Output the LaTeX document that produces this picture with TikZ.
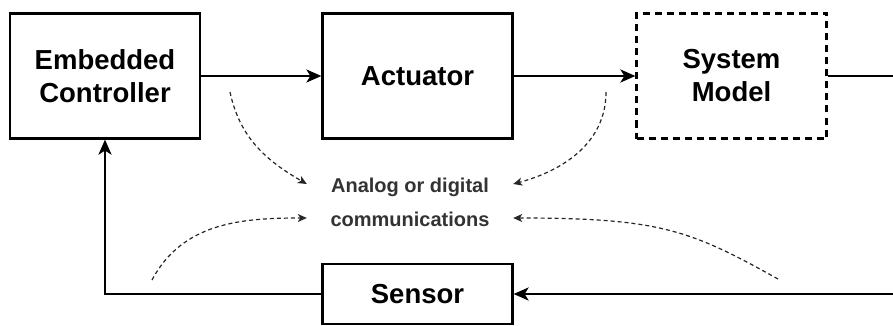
\documentclass[tikz,border=0pt]{standalone}
\usepackage{fontspec}
\setmainfont{Liberation Sans}
\usetikzlibrary{arrows.meta, positioning}

\begin{document}
\begin{tikzpicture}[
		x=1pt, y=1pt,
		% Define styles
		blockbox/.style={rectangle, draw=black, line width=2.2pt, minimum width=190pt, minimum height=125pt, align=center, inner sep=0pt, font=\fontsize{27.5}{33}\selectfont\bfseries},
		modelbox/.style={blockbox, dash pattern=on 7pt off 5pt},
		sensorbox/.style={blockbox, minimum height=60pt},
		signalarrow/.style={-{Stealth[length=15pt, width=13pt, inset=4pt]}, line width=2.2pt},
		signalline/.style={line width=2.2pt},
		commsarrow/.style={-{Stealth[length=9pt, width=8pt, inset=2.5pt]}, line width=1.2pt, dash pattern=on 4pt off 3pt, draw=black!85},
		commstext/.style={font=\fontsize{20}{24}\selectfont\bfseries, text=black!80, minimum width=206pt, inner sep=0pt, text height=16pt, text depth=0pt}
		]
		
		\useasboundingbox (0,0) rectangle (893,-326);
		
		% Main blocks
		\node[blockbox] (controller) at (105,-76) {Embedded\\Controller};
		\node[blockbox] (actuator) at (417.5,-76) {Actuator};
		\node[modelbox] (model) at (731.5,-76) {System\\Model};
		\node[sensorbox] (sensor) at (417.5,-294) {Sensor};
		
		% Communication label
		\node[commstext] (analog) at (410,-184) {Analog or digital};
		\node[commstext] (comms) at (410,-218) {communications};
		
		% Free ends
		\coordinate (modelout) at (893,-76);
		\coordinate (sensorin) at (893,-294);
		\coordinate (ctrlpt) at (230,-92);
		\coordinate (actpt) at (606,-92);
		\coordinate (leftpt) at (152,-280);
		\coordinate (rightpt) at (778,-279);
		
		% Signal path
		\draw[signalarrow] (controller) -- (actuator);
		\draw[signalarrow] (actuator) -- (model);
		\draw[signalline] (model.east) -- (modelout);
		\draw[signalarrow] (sensorin) -- (sensor.east);
		\draw[signalarrow] (sensor.west) -| (controller.south);
		
		% Communication links
		\draw[commsarrow] (ctrlpt) to[out=-78, in=150] (analog.west);
		\draw[commsarrow] (actpt) to[out=-90, in=15] (analog.east);
		\draw[commsarrow] (leftpt) to[out=62, in=180] (comms.west);
		\draw[commsarrow] (rightpt) .. controls (690,-230) and (660,-218) .. (comms.east);
		
	\end{tikzpicture}
\end{document}
